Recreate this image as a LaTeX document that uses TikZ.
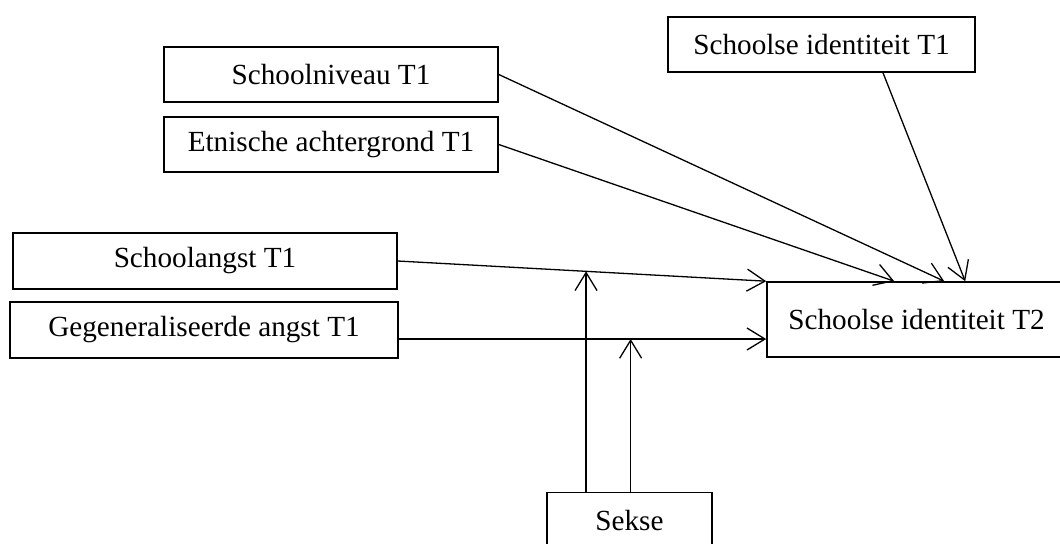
\documentclass[tikz,border=0pt]{standalone}
\usepackage{fontspec}
\setmainfont{Liberation Serif}
\usepackage{tikz}
\usetikzlibrary{arrows.meta}
\tikzstyle{box} = [draw, line width=0.8pt, inner sep=0pt, align=center]
\tikzstyle{arrow} = [line width=0.65pt,-{Straight Barb[length=9pt,width=11pt]}]

\begin{document}
\begin{tikzpicture}[x=0.5pt,y=-0.5pt,font=\fontsize{14.6}{17}\selectfont]
  \useasboundingbox (0,0) rectangle (1060,543);
  \clip (0,0) rectangle (1060,543);
  % predictors
  \node[box, minimum width=167pt, minimum height=27.5pt] (sn) at (331,74.5) {Schoolniveau T1};
  \node[box, minimum width=167pt, minimum height=27.5pt] (ea) at (331,144.5) {Etnische achtergrond T1};
  \node[box, minimum width=153.5pt, minimum height=27.5pt] (si1) at (821.5,44.5) {Schoolse identiteit T1};
  \node[box, minimum width=192pt, minimum height=28pt] (sa) at (205,261) {Schoolangst T1};
  \node[box, minimum width=194pt, minimum height=28pt] (ga) at (204,330) {Gegeneraliseerde angst T1};
  \node[box, minimum width=149.5pt, minimum height=37.5pt] (si2) at (916.5,319.5) {Schoolse identiteit T2};
  \node[box, minimum width=82.5pt, minimum height=27.5pt] (sx) at (629.5,520) {Sekse};
  % paths
  \draw[arrow] (sn.east) -- ([xshift=89pt]si2.north west);
  \draw[arrow] (ea.east) -- ([xshift=64pt]si2.north west);
  \draw[arrow] ([xshift=30.75pt]si1.south) -- ([xshift=99.5pt]si2.north west);
  \draw[arrow] (sa.east) -- coordinate[pos=0.511] (m1) (si2.north west);
  \draw[arrow] ([yshift=-4.5pt]ga.east) -- coordinate[pos=0.631] (m2) ([yshift=-4.5pt]ga.east -| si2.west);
  % moderator
  \draw[arrow] (m1 |- sx.north) -- (m1);
  \draw[arrow] (m2 |- sx.north) -- (m2);
\end{tikzpicture}
\end{document}
